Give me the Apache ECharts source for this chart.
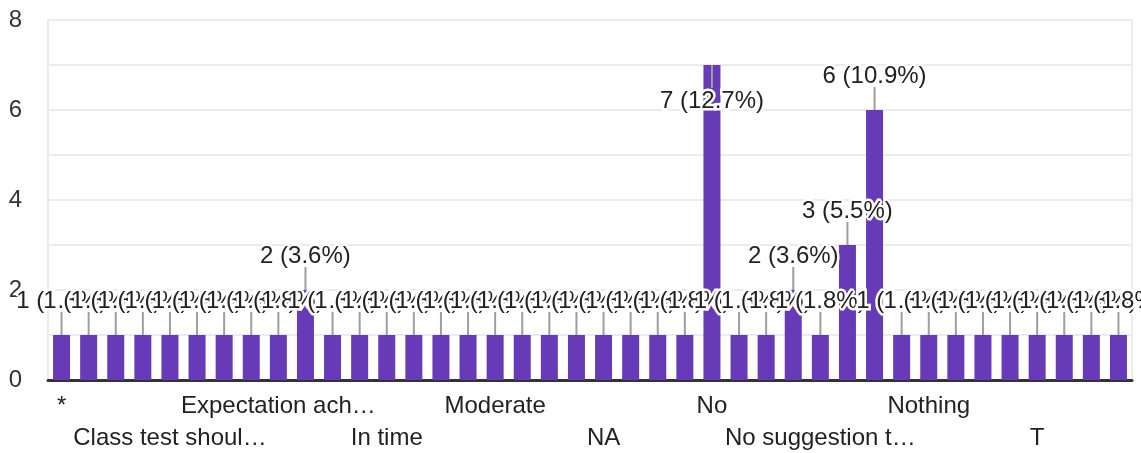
<!DOCTYPE html>
<html>
<head>
<meta charset="utf-8">
<script src="https://cdn.jsdelivr.net/npm/echarts@6/dist/echarts.min.js"></script>
<style>
  html, body { margin: 0; padding: 0; background: #fff; }
  #chart { width: 1141px; height: 453px; }
</style>
</head>
<body>
<div id="chart"></div>
<script>
// responses, in form order
const categories = [
  '*', '.', 'All good', 'Best', 'Class test should be taken regularly',
  'Clear explanation', 'Doubt clearing', 'Excellent', 'Expectation achieved',
  'Good', 'Good teaching', 'Helpful', 'In time', 'Interactive', 'Keep it up',
  'More examples', 'Moderate', 'More practice', 'Much better', 'N/A', 'NA',
  'Need more classes', 'Nice', 'Nil', 'No', 'No comment', 'No complaints',
  'No issues', 'No suggestion to give', 'No suggestions', 'None', 'Nope',
  'Nothing', 'Ok', 'Punctuality', 'Satisfied', 'T', 'Teaching is good',
  'Very good', 'Well organised',
]
const counts = [
  1, 1, 1, 1, 1, 1, 1, 1, 1, 2,
  1, 1, 1, 1, 1, 1, 1, 1, 1, 1,
  1, 1, 1, 1, 7, 1, 1, 2, 1, 3,
  6, 1, 1, 1, 1, 1, 1, 1, 1, 1,
]
const yTicks = [0, 2, 4, 6, 8]

const total = counts.reduce((a, b) => a + b, 0)
const font = '"Liberation Sans", Arial, sans-serif'

const chart = echarts.init(document.getElementById('chart'))

chart.setOption({
  animation: false,
  grid: {
    left: 48,
    right: 9,
    top: 20,
    bottom: 73,
    outerBoundsMode: 'none',
    show: true,
    borderColor: '#ebebeb',
    borderWidth: 2,
  },
  xAxis: {
    type: 'category',
    data: categories,
    axisTick: { show: false },
    axisLine: { lineStyle: { color: '#333', width: 3 } },
    axisLabel: {
      interval: 3,
      margin: 10,
      color: '#222',
      fontSize: 24,
      fontFamily: font,
      lineHeight: 32,
      formatter(value, index) {
        const txt = echarts.format.truncateText(value, 198, '24px ' + font, '…')
        // alternate rows so long answers don't collide
        return index % 8 === 0 ? txt : '\n' + txt
      },
    },
  },
  yAxis: {
    type: 'value',
    min: 0,
    max: 8,
    interval: 1,
    axisLine: { show: false },
    axisTick: { show: false },
    splitLine: { lineStyle: { color: '#ebebeb', width: 2 } },
    axisLabel: {
      margin: 26,
      color: '#333',
      fontSize: 24,
      fontFamily: font,
      formatter(v) {
        return yTicks.indexOf(v) >= 0 ? String(v) : ''
      },
    },
  },
  series: [
    {
      type: 'bar',
      data: counts,
      barWidth: 17,
      itemStyle: { color: '#673ab7' },
    },
    {
      // leader line + value label for each bar
      type: 'custom',
      data: counts.map((c, i) => [i, c]),
      z: 5,
      renderItem(params, api) {
        const v = api.value(1)
        const p = api.coord([api.value(0), v])
        const gridTop = params.coordSys.y
        const below = p[1] - 48 < gridTop
        const dir = below ? 1 : -1
        const pct = (v / total * 100).toFixed(1)
        return {
          type: 'group',
          children: [
            {
              type: 'line',
              shape: { x1: p[0], y1: p[1], x2: p[0], y2: p[1] + dir * 23 },
              style: { stroke: '#9e9e9e', lineWidth: 2 },
            },
            {
              type: 'text',
              style: {
                text: v + ' (' + pct + '%)',
                x: p[0],
                y: p[1] + dir * (below ? 36 : 34),
                align: 'center',
                verticalAlign: 'middle',
                font: '24px ' + font,
                fill: '#222',
                stroke: '#fff',
                lineWidth: 5,
              },
            },
          ],
        }
      },
    },
  ],
})
</script>
</body>
</html>
